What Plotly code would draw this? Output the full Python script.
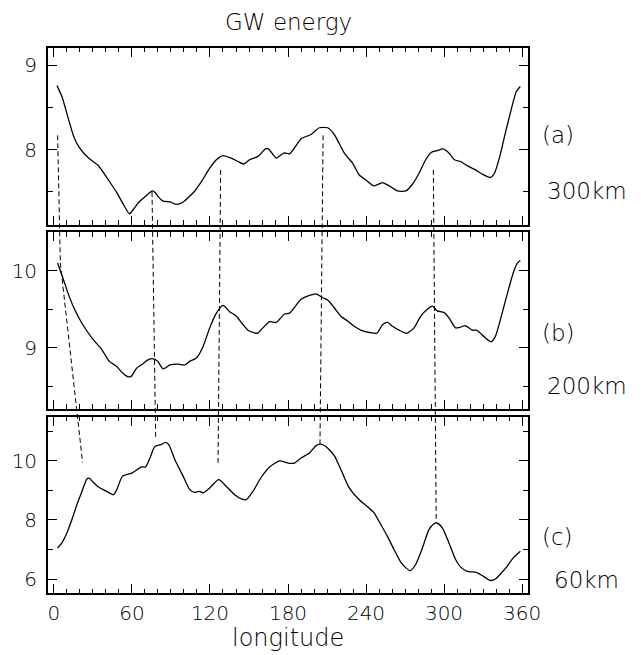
import plotly.graph_objects as go

# ---- GW energy vs longitude at three altitudes ----
lon_a = [2.3, 6.1, 11.2, 15.1, 18.9, 26.6, 34.2, 41.9, 48.3, 53.4, 58.0, 61.0, 64.9, 70.0,
         75.6, 78.0, 80.2, 84.0, 89.2, 94.3, 99.4, 104.5, 108.3, 113.4, 119.8, 124.9, 130.0,
         136.4, 141.5, 145.9, 150.5, 156.9, 162.7, 165.0, 170.9, 176.8, 181.2, 185.0, 190.1,
         197.7, 204.1, 210.5, 215.6, 223.3, 229.7, 234.8, 239.9, 246.3, 252.7, 257.8, 264.2,
         270.6, 275.7, 280.8, 285.9, 290.3, 294.8, 299.5, 303.8, 308.1, 312.7, 317.8, 324.2,
         330.6, 335.7, 338.8, 342.9, 347.2, 351.6, 355.6, 358.7]
val_a = [8.76, 8.63, 8.36, 8.16, 8.04, 7.90, 7.81, 7.64, 7.49, 7.35, 7.24, 7.29, 7.37, 7.44,
         7.51, 7.49, 7.44, 7.39, 7.38, 7.35, 7.38, 7.45, 7.51, 7.62, 7.78, 7.88, 7.93,
         7.90, 7.86, 7.83, 7.88, 7.92, 8.01, 8.01, 7.90, 7.96, 7.95, 8.02, 8.13,
         8.18, 8.26, 8.26, 8.18, 7.96, 7.84, 7.70, 7.64, 7.57, 7.61, 7.57, 7.51,
         7.51, 7.59, 7.72, 7.88, 7.97, 7.99, 8.01, 7.96, 7.88, 7.86, 7.81, 7.76,
         7.70, 7.67, 7.72, 7.92, 8.20, 8.47, 8.69, 8.75]

lon_b = [2.8, 7.4, 11.2, 15.8, 21.5, 29.1, 36.8, 42.4, 48.3, 52.6, 56.7, 59.2, 63.6, 68.7,
         72.6, 76.4, 79.7, 84.0, 89.2, 95.6, 100.6, 104.5, 109.6, 114.7, 119.8, 124.9, 130.0,
         135.1, 140.3, 144.6, 149.2, 156.4, 160.7, 165.8, 170.9, 177.3, 181.2, 187.5, 190.1,
         196.5, 201.6, 206.7, 210.5, 215.6, 220.7, 225.8, 230.9, 237.4, 242.5, 248.3, 252.7,
         256.6, 260.4, 265.4, 271.3, 276.9, 282.0, 287.2, 291.0, 294.8, 299.9, 303.8, 308.9,
         312.7, 316.5, 321.7, 325.0, 330.6, 336.2, 339.5, 343.4, 348.5, 353.6, 356.6, 358.7]
val_b = [10.10, 9.88, 9.69, 9.50, 9.32, 9.13, 8.98, 8.83, 8.76, 8.68, 8.63, 8.63, 8.74, 8.80,
         8.85, 8.86, 8.83, 8.73, 8.78, 8.79, 8.78, 8.83, 8.87, 9.02, 9.26, 9.45, 9.55,
         9.47, 9.41, 9.32, 9.23, 9.19, 9.26, 9.34, 9.33, 9.44, 9.45, 9.58, 9.63,
         9.68, 9.70, 9.65, 9.62, 9.52, 9.41, 9.35, 9.28, 9.22, 9.20, 9.19, 9.30,
         9.33, 9.28, 9.23, 9.19, 9.26, 9.41, 9.50, 9.54, 9.48, 9.46, 9.39, 9.26,
         9.27, 9.29, 9.23, 9.23, 9.15, 9.08, 9.15, 9.37, 9.69, 9.99, 10.10, 10.13]

lon_c = [2.8, 6.1, 10.0, 13.8, 17.6, 21.5, 25.3, 27.1, 29.6, 34.2, 40.6, 45.8, 48.3, 52.6,
         59.8, 67.4, 70.5, 73.8, 77.6, 82.2, 85.8, 88.3, 93.0, 99.4, 104.5, 108.3, 112.2,
         114.7, 119.8, 126.7, 132.6, 139.0, 144.1, 147.9, 153.0, 159.4, 165.8, 173.5, 179.9,
         185.0, 190.1, 196.5, 201.6, 204.9, 209.2, 215.6, 220.7, 227.1, 234.8, 241.3, 246.3,
         251.4, 256.5, 261.6, 266.7, 270.6, 273.9, 278.2, 283.4, 288.4, 292.3, 294.8, 298.7,
         303.8, 308.9, 312.7, 317.8, 324.2, 329.3, 335.7, 339.5, 343.4, 348.5, 353.6, 358.7]
val_c = [7.05, 7.22, 7.56, 8.01, 8.51, 8.96, 9.38, 9.41, 9.30, 9.11, 8.96, 8.85, 9.02, 9.47,
         9.58, 9.79, 9.79, 10.09, 10.48, 10.54, 10.62, 10.54, 10.03, 9.47, 9.02, 8.93, 8.96,
         8.91, 9.08, 9.36, 9.13, 8.85, 8.71, 8.68, 8.96, 9.44, 9.79, 9.99, 9.92,
         9.92, 10.09, 10.26, 10.51, 10.56, 10.48, 10.17, 9.70, 9.08, 8.68, 8.44, 8.23,
         7.84, 7.44, 6.99, 6.57, 6.38, 6.28, 6.49, 7.05, 7.67, 7.87, 7.89, 7.73,
         7.22, 6.66, 6.41, 6.26, 6.23, 6.12, 5.95, 6.00, 6.17, 6.43, 6.73, 6.94]

# panel definitions
panels = [
    dict(lon=lon_a, val=val_a, yrange=[7.11, 9.206], major=1, minor=0.5,
         tag="(a)", alt="300km", domain=[0.6758, 1.0]),
    dict(lon=lon_b, val=val_b, yrange=[8.215, 10.495], major=1, minor=0.5,
         tag="(b)", alt="200km", domain=[0.3382, 0.6617]),
    dict(lon=lon_c, val=val_c, yrange=[5.527, 11.476], major=2, minor=1,
         tag="(c)", alt="60km", domain=[0.0, 0.3229]),
]

# dashed guides linking features between panels: (panel index, longitude, value)
guides = [
    [(0, 2.8, 8.17), (1, 4.9, 10.10), (2, 22.0, 9.94)],
    [(0, 75.4, 7.50), (2, 78.2, 10.80)],
    [(0, 128.2, 7.76), (2, 126.2, 9.92)],
    [(0, 207.0, 8.17), (2, 204.6, 10.56)],
    [(0, 291.8, 7.76), (2, 294.0, 7.89)],
]

x_range = [-4.6, 364.6]
x_ticks = [0, 60, 120, 180, 240, 300, 360]

FONT = "DejaVu Sans"
WEIGHT = 200
INK = "#000000"


def tfont(size):
    return dict(family=FONT, size=size, color=INK, weight=WEIGHT)


fig = go.Figure()

for i, p in enumerate(panels):
    n = i + 1
    fig.add_trace(go.Scatter(x=p["lon"], y=p["val"], mode="lines",
                             line=dict(color=INK, width=1.3, shape="spline", smoothing=0.6),
                             xaxis="x" if n == 1 else f"x{n}",
                             yaxis="y" if n == 1 else f"y{n}",
                             showlegend=False, hoverinfo="skip"))


def to_paper(pi, v):
    p = panels[pi]
    d0, d1 = p["domain"]
    r0, r1 = p["yrange"]
    return d0 + (v - r0) / (r1 - r0) * (d1 - d0)


shapes = []
for g in guides:
    for (pa, la, va), (pb, lb, vb) in zip(g[:-1], g[1:]):
        shapes.append(dict(type="line", xref="x", yref="paper",
                           x0=la, y0=to_paper(pa, va), x1=lb, y1=to_paper(pb, vb),
                           line=dict(color=INK, width=1, dash="5px,3px"), layer="above"))

axis_common = dict(showline=True, linecolor=INK, linewidth=1.8, mirror="allticks",
                   ticks="inside", tickcolor=INK, tickwidth=1.2, showgrid=False,
                   zeroline=False, tickfont=tfont(20))

layout = dict(
    width=643, height=655,
    margin=dict(l=46, r=115, t=48, b=62),
    paper_bgcolor="white", plot_bgcolor="white",
    font=dict(family=FONT, color=INK),
    shapes=shapes,
)

for i, p in enumerate(panels):
    n = i + 1
    xa = dict(axis_common, range=x_range, tickmode="array", tickvals=x_ticks,
              ticklen=9, showticklabels=(i == 2), ticklabelstandoff=1,
              minor=dict(dtick=10, tick0=0, ticklen=4.5, ticks="inside", tickcolor=INK,
                         tickwidth=1.2, showgrid=False),
              anchor="y" if n == 1 else f"y{n}")
    ya = dict(axis_common, range=p["yrange"], dtick=p["major"], tick0=0, ticklen=9,
              domain=p["domain"], ticklabelstandoff=5,
              minor=dict(dtick=p["minor"], tick0=0, ticklen=5, ticks="inside",
                         tickcolor=INK, tickwidth=1.2, showgrid=False),
              anchor="x" if n == 1 else f"x{n}")
    layout["xaxis" if n == 1 else f"xaxis{n}"] = xa
    layout["yaxis" if n == 1 else f"yaxis{n}"] = ya

fig.update_layout(**layout)

ann = []
ann.append(dict(text="GW energy", xref="paper", yref="paper", x=0.5, y=1.048,
                xanchor="center", yanchor="middle", showarrow=False, font=tfont(23)))
ann.append(dict(text="longitude", xref="paper", yref="paper", x=0.5, y=-0.083,
                xanchor="center", yanchor="middle", showarrow=False, font=tfont(24)))
label_pos = [(0.509, 0.188), (0.431, 0.126), (0.32, 0.074)]
for i, p in enumerate(panels):
    n = i + 1
    yref = "y domain" if n == 1 else f"y{n} domain"
    xref = "x domain" if n == 1 else f"x{n} domain"
    ty, ay = label_pos[i]
    ann.append(dict(text=p["tag"], xref=xref, yref=yref, x=1.025, y=ty,
                    xanchor="left", yanchor="middle", showarrow=False, font=tfont(23)))
    ann.append(dict(text=p["alt"], xref=xref, yref=yref, x=1.1224, y=ay,
                    xanchor="center", yanchor="middle", showarrow=False, font=tfont(23)))
fig.update_layout(annotations=ann)

fig.write_html("out.html")
